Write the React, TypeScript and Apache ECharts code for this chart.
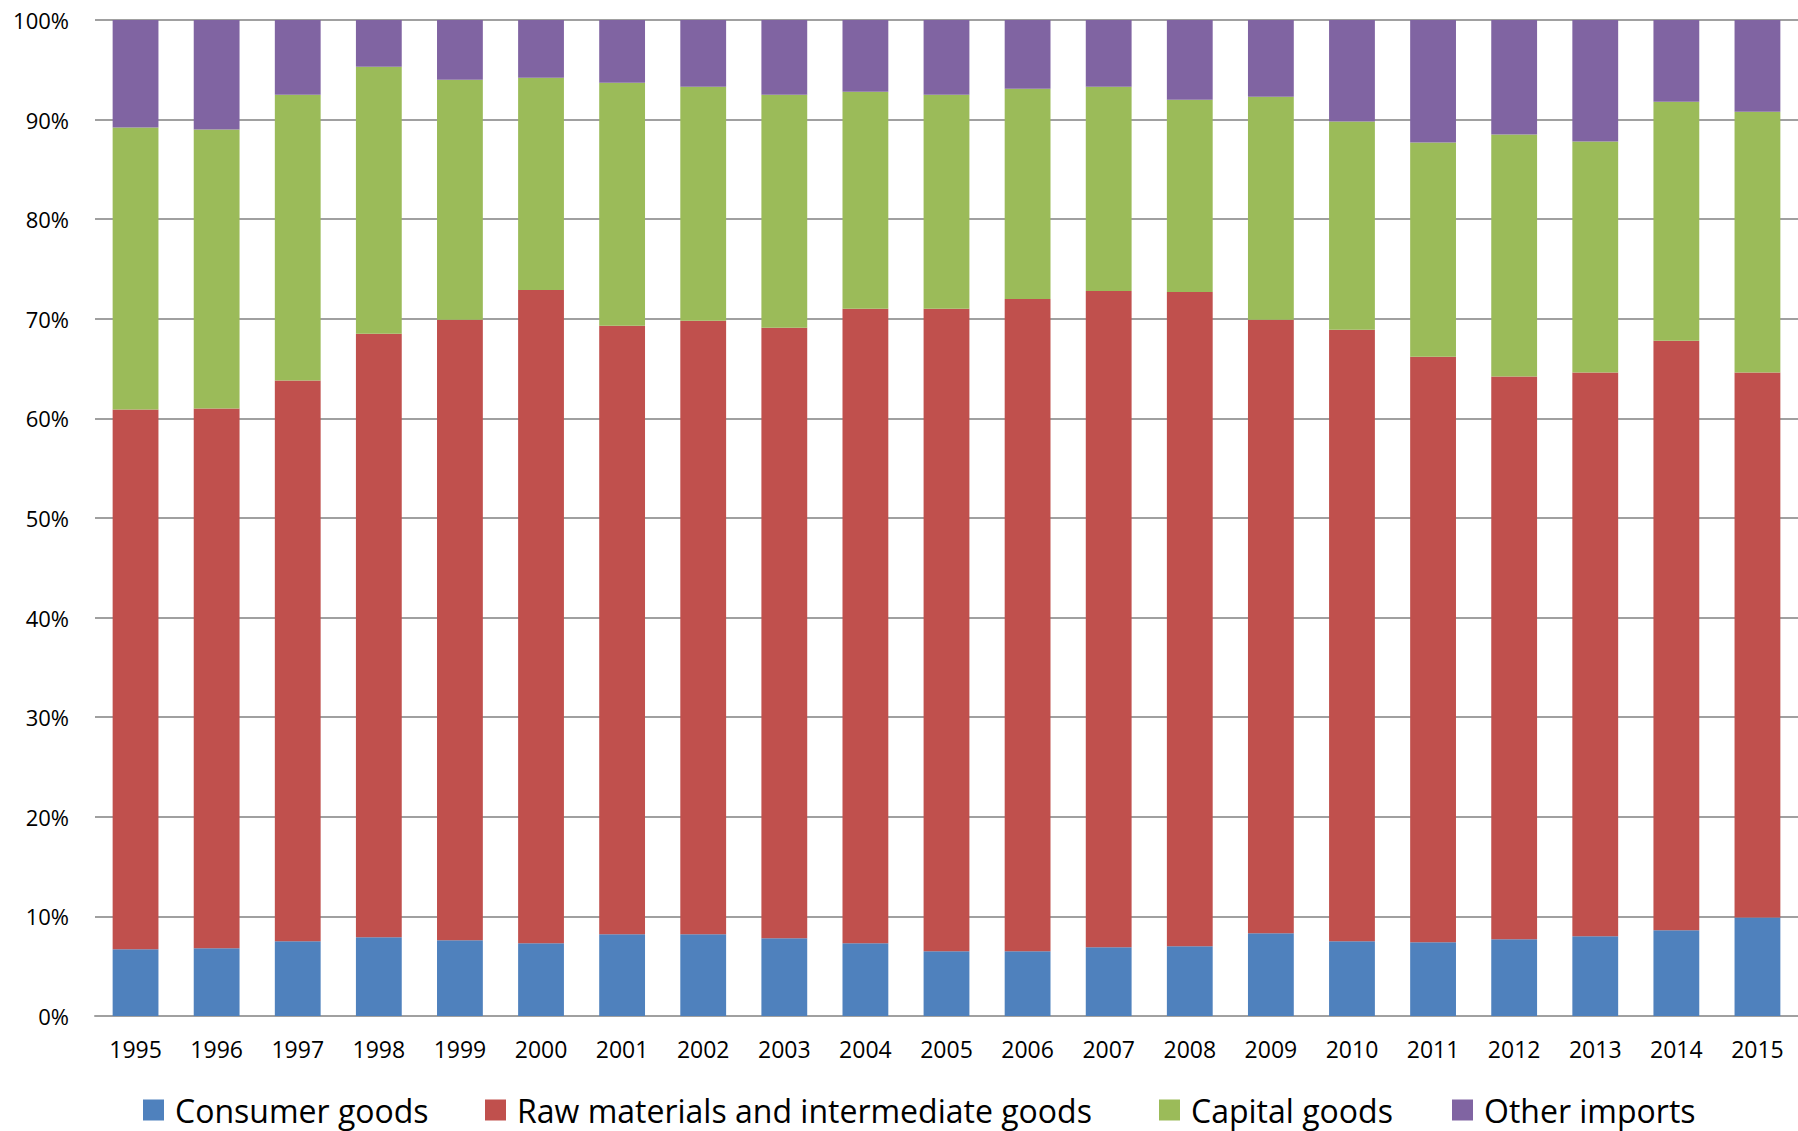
import React, { useEffect, useRef } from "react";
import * as echarts from "echarts";

// Import composition by product group, share of total imports (%)
const years = [
  "1995", "1996", "1997", "1998", "1999", "2000", "2001", "2002", "2003", "2004", "2005",
  "2006", "2007", "2008", "2009", "2010", "2011", "2012", "2013", "2014", "2015",
];
const consumerGoods = [6.7, 6.8, 7.5, 7.9, 7.6, 7.3, 8.2, 8.2, 7.8, 7.3, 6.5, 6.5, 6.9, 7.0, 8.3, 7.5, 7.4, 7.7, 8.0, 8.6, 9.9];
const rawMaterials = [54.2, 54.2, 56.3, 60.6, 62.3, 65.6, 61.1, 61.6, 61.3, 63.7, 64.5, 65.5, 65.9, 65.7, 61.6, 61.4, 58.8, 56.5, 56.6, 59.2, 54.7];
const capitalGoods = [28.3, 28.0, 28.7, 26.8, 24.1, 21.3, 24.4, 23.5, 23.4, 21.8, 21.5, 21.1, 20.5, 19.3, 22.4, 20.9, 21.5, 24.3, 23.2, 24.0, 26.2];
const otherImports = [10.8, 11.0, 7.5, 4.7, 6.0, 5.8, 6.3, 6.7, 7.5, 7.2, 7.5, 6.9, 6.7, 8.0, 7.7, 10.2, 12.3, 11.5, 12.2, 8.2, 9.2];

const seriesNames = ["Consumer goods", "Raw materials and intermediate goods", "Capital goods", "Other imports"];
const seriesColors = ["#4F81BD", "#C0504D", "#9BBB59", "#8064A2"];
// left edge of each legend entry
const legendLefts = [143, 485, 1159, 1452];

const FONT = "'Open Sans', 'Liberation Sans', sans-serif";

export default function App() {
  const ref = useRef<HTMLDivElement>(null);

  useEffect(() => {
    if (!ref.current) return;
    const chart = echarts.init(ref.current, undefined, { renderer: "svg" });
    const values = [consumerGoods, rawMaterials, capitalGoods, otherImports];
    chart.setOption({
      animation: false,
      backgroundColor: "#ffffff",
      grid: { left: 95, top: 20, width: 1709, bottom: 115, containLabel: false },
      legend: seriesNames.map((name, i) => ({
        left: legendLefts[i],
        top: 1094,
        padding: 0,
        icon: "rect",
        itemWidth: 21,
        itemHeight: 21,
        itemGap: 0,
        selectedMode: false,
        textStyle: {
          fontFamily: FONT,
          fontSize: 32,
          color: "#000",
          padding: [0, 0, 0, 6],
        },
        data: [name],
      })),
      xAxis: {
        type: "category",
        data: years,
        axisLine: { lineStyle: { color: "#A0A0A0", width: 2 } },
        axisTick: { show: false },
        axisLabel: { fontFamily: FONT, fontSize: 23, color: "#000", margin: 21 },
      },
      yAxis: {
        type: "value",
        min: 0,
        max: 100,
        interval: 10,
        axisLine: { show: false },
        axisTick: { show: false },
        splitLine: { lineStyle: { color: "#A0A0A0", width: 2 } },
        axisLabel: { fontFamily: FONT, fontSize: 22, color: "#000", margin: 26, formatter: "{value}%" },
      },
      series: seriesNames.map((name, i) => ({
        name,
        type: "bar",
        stack: "total",
        barCategoryGap: "43.5%",
        itemStyle: { color: seriesColors[i] },
        data: values[i],
      })),
    });
    return () => chart.dispose();
  }, []);

  return (
    <div
      ref={ref}
      style={{ position: "absolute", left: 0, top: 0, width: 1798, height: 1131 }}
    />
  );
}
